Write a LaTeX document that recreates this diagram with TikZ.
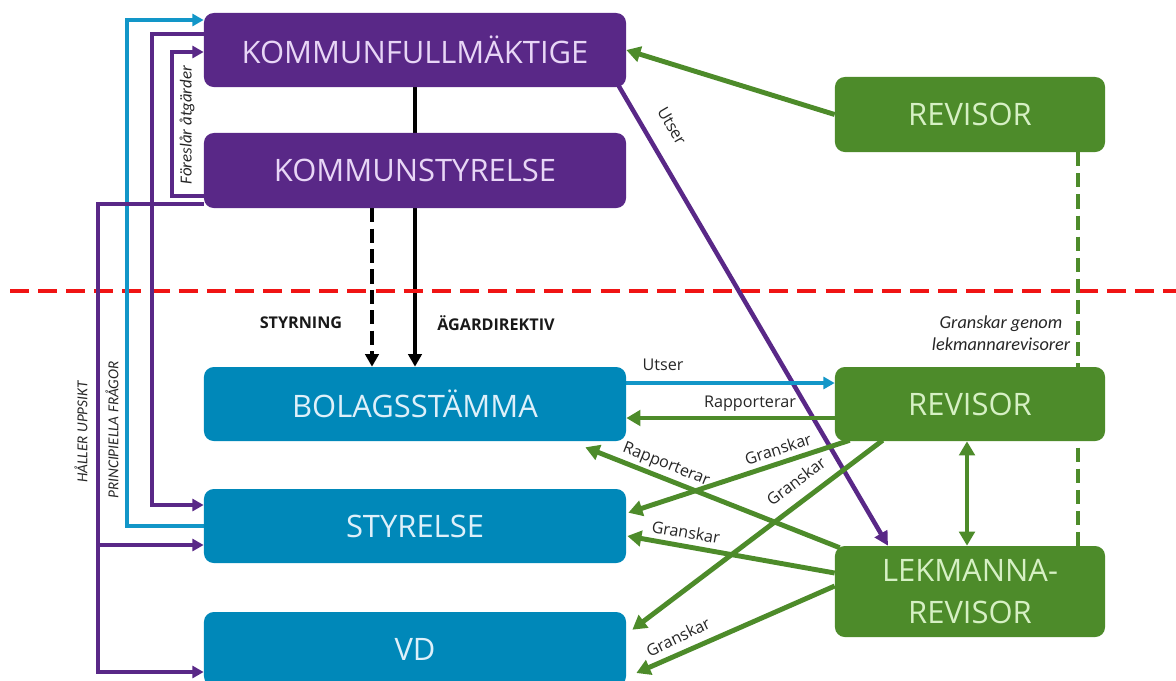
\documentclass[tikz,border=0pt]{standalone}
\usepackage{fontspec}
\setmainfont{Open Sans}
\newfontfamily\calfont{Carlito}
\usetikzlibrary{arrows.meta,backgrounds,calc}
\definecolor{kfpurple}{RGB}{89,40,135}
\definecolor{kftext}{RGB}{232,214,246}
\definecolor{bolblue}{RGB}{0,136,185}
\definecolor{boltext}{RGB}{222,240,250}
\definecolor{revgreen}{RGB}{77,139,42}
\definecolor{revtext}{RGB}{214,240,196}
\definecolor{utblue}{RGB}{18,150,200}
\definecolor{gransred}{RGB}{240,20,20}

\begin{document}
\begin{tikzpicture}[x=0.025cm,y=-0.025cm,
    box/.style={rectangle,rounded corners=7pt,inner sep=0pt,minimum width=10.55cm,minimum height=1.85cm,font=\fontsize{22}{27}\selectfont},
    kbox/.style={box,fill=kfpurple,text=kftext},
    bbox/.style={box,fill=bolblue,text=boltext},
    rbox/.style={box,fill=revgreen,text=revtext,minimum width=6.75cm,align=center},
    plink/.style={draw=kfpurple,line width=2.7pt,-{Triangle[length=8pt,width=8.5pt]}},
    clink/.style={draw=utblue,line width=2.7pt,-{Triangle[length=8pt,width=8.5pt]}},
    glink/.style={draw=revgreen,line width=3.5pt,-{Triangle[length=10pt,width=11pt]}},
    klink/.style={draw=black,line width=3pt,-{Triangle[length=9pt,width=9.5pt]}},
    lbl/.style={font=\fontsize{11.5}{13}\selectfont,text=black!85,inner sep=0pt},
    boldlbl/.style={font=\fontsize{11.5}{13}\selectfont\bfseries,text=black!90,inner sep=0pt},
    clbl/.style={font=\calfont\itshape\fontsize{12}{14}\selectfont,text=black!85,inner sep=0pt},
    caplbl/.style={font=\calfont\itshape\fontsize{10.8}{12}\selectfont,text=black!85,inner sep=0pt}]
\useasboundingbox (0,0) rectangle (1176,680);
\clip (0,0) rectangle (1176,680);
\node [kbox] (kf) at (415,50) {KOMMUNFULLMÄKTIGE};
\node [kbox,minimum height=1.875cm] (ks) at (415,170.5) {KOMMUNSTYRELSE};
\node [rbox,minimum height=1.875cm] (revk) at (970,114.5) {REVISOR};
\node [bbox] (bol) at (415,404) {BOLAGSSTÄMMA};
\node [bbox] (sty) at (415,526) {STYRELSE};
\node [bbox] (vd) at (415,649) {VD};
\node [rbox] (revb) at (970,404) {REVISOR};
\node [rbox,minimum height=2.275cm,font=\fontsize{22}{30}\selectfont] (lek) at (970,591.5) {LEKMANNA-\\REVISOR};
\node [boldlbl] (styrlbl) at (301,323) {STYRNING};
\node [boldlbl] (agarlbl) at (496,323) {ÄGARDIREKTIV};
\node [clbl,rotate=90] (foreslbl) at (187,125) {Föreslår åtgärder};
\node [caplbl,rotate=90] (hallbl) at (81,432) {HÅLLER UPPSIKT};
\node [caplbl,rotate=90] (princlbl) at (112,430) {PRINCIPIELLA FRÅGOR};
\node [clbl,align=center,font=\calfont\itshape\fontsize{13}{16}\selectfont] (genomlbl) at (1001,333) {Granskar genom\\lekmannarevisorer};
\node [lbl,rotate=-60] (utserk) at (672,126) {Utser};
\node [lbl] (utserb) at (663,365) {Utser};
\node [lbl] (rappb) at (750,404) {Rapporterar};
\node [lbl,rotate=-21.6] (rappl) at (666,465) {Rapporterar};
\node [lbl,rotate=18] (gransty) at (778,449) {Granskar};
\node [lbl,rotate=37] (gransvd) at (796,481) {Granskar};
\node [lbl,rotate=-10] (granlsty) at (686,532) {Granskar};
\node [lbl,rotate=26] (granlvd) at (678,637) {Granskar};
\begin{scope}[on background layer]
\draw [klink] (kf.south) -- (bol.north);
\draw [klink,dash pattern=on 10pt off 4.5pt] (ks.south -| 372,0) -- (bol.north -| 372,0);
\draw [draw=gransred,line width=3.5pt,dash pattern=on 13.5pt off 6.5pt] (10,291) -- (1176,291);
\draw [clink] (sty.west) -- (127,526) |- (kf.west |- 0,20);
\draw [plink] (kf.west |- 0,34) -| (152,505) -- (sty.west |- 0,505);
\draw [plink] (ks.west |- 0,196) -| (172,52) -- (kf.west |- 0,52);
\draw [plink] (ks.west |- 0,204) -| (98,672) -- (vd.west |- 0,672);
\draw [plink] (98,545) -- (sty.west |- 0,545);
\draw [glink] (revk.west) -- (kf.east);
\draw [plink,line width=3.2pt,-{Triangle[length=10pt,width=10pt]}] (kf.south east) ++(-8,-2) -- (lek.north -| 888,0);
\draw [glink,-,dash pattern=on 10pt off 5pt] (revk.south -| 1078,0) -- (lek.north -| 1078,0);
\draw [clink] (bol.east |- 0,383) -- (revb.west |- 0,383);
\draw [glink] (revb.west |- 0,418) -- (bol.east |- 0,418);
\draw [glink,{Triangle[length=10pt,width=11pt]}-{Triangle[length=10pt,width=11pt]}] (revb.south -| 967,0) -- (lek.north -| 967,0);
\draw [glink] (lek.north west) ++(5,2) -- ($(bol.south east)+(-41,6)$);
\draw [glink] (revb.south west) ++(15,-1) -- ($(sty.north east)+(2,24)$);
\draw [glink] (revb.south west) ++(48,-1) -- ($(vd.north east)+(6,18)$);
\draw [glink] (lek.west |- 0,573) -- ($(sty.east)+(1,10)$);
\draw [glink] (lek.west |- 0,586) -- ($(vd.east)+(10,24)$);
\end{scope}
\end{tikzpicture}
\end{document}
